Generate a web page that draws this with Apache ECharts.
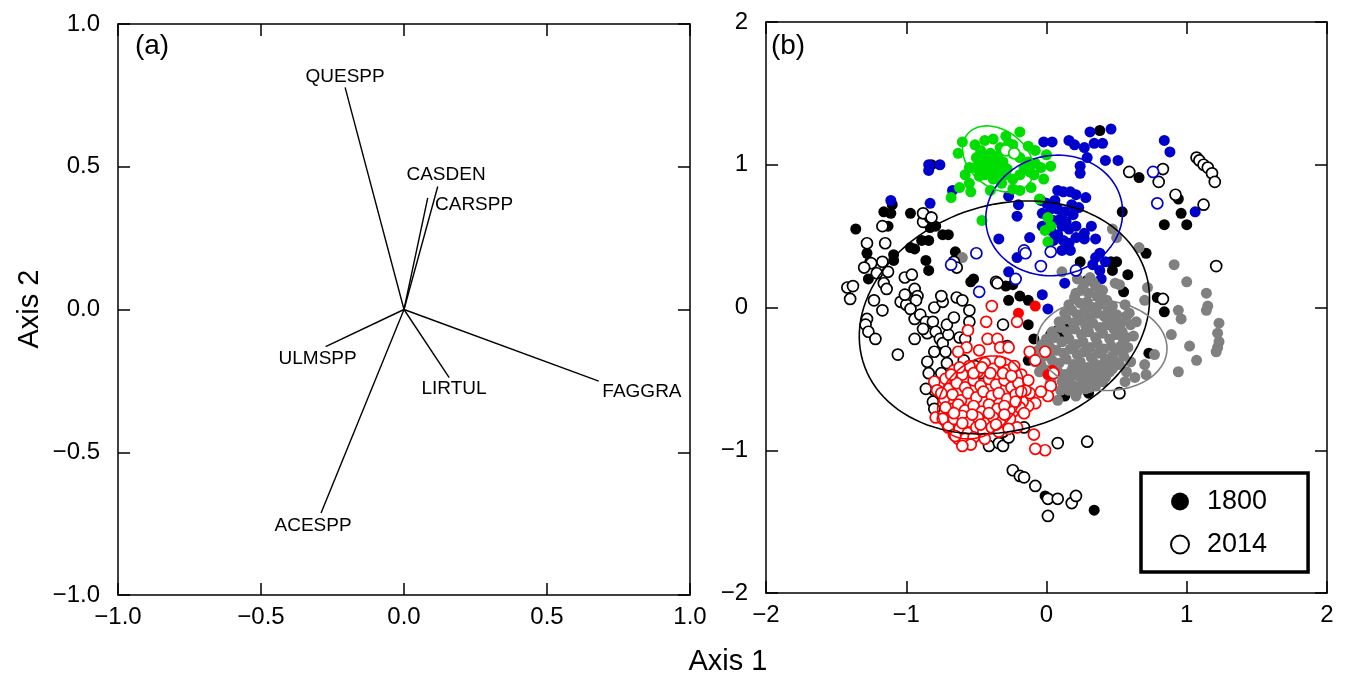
<!DOCTYPE html>
<html>
<head>
<meta charset="utf-8">
<title>Ordination biplot</title>
<script src="https://cdn.jsdelivr.net/npm/echarts@6/dist/echarts.min.js"></script>
<style>
  html, body { margin: 0; padding: 0; background: #fff; }
  #chart { width: 1346px; height: 680px; }
</style>
</head>
<body>
<div id="chart"></div>
<script>
// panel (a): species vectors
var arrowNames = ['QUESPP', 'CASDEN', 'CARSPP', 'ULMSPP', 'LIRTUL', 'FAGGRA', 'ACESPP'];
var arrowX = [-0.206, 0.118, 0.083, -0.274, 0.158, 0.681, -0.290];
var arrowY = [0.778, 0.431, 0.391, -0.130, -0.239, -0.251, -0.713];
var labelX = [-0.206, 0.147, 0.245, -0.302, 0.175, 0.832, -0.318];
var labelY = [0.816, 0.473, 0.368, -0.172, -0.277, -0.287, -0.757];

// panel (b): site scores, 1800 = filled, 2014 = open
var black1800 = [[-0.82,1.00],[0.38,1.24],[-1.36,0.55],[-1.10,0.72],[-1.11,0.66],[-1.13,0.57],[-0.97,0.66],[-0.79,0.57],
  [-0.70,0.51],[-0.84,0.47],[-0.94,0.41],[-0.65,0.39],[-0.86,0.33],[-0.84,0.26],[-1.28,0.38],[-1.26,0.32],[-1.09,0.37],
  [-1.09,0.33],[-1.27,0.20],[-0.54,0.18],[-0.52,0.20],[-0.29,0.15],[-0.24,0.16],[-0.27,0.05],[-0.19,0.08],[-0.13,0.05],
  [-0.13,-0.12],[-0.09,-0.22],[-0.13,-0.37],[0.03,-0.19],[0.08,-0.16],[0.13,-0.13],[0.11,-0.22],[0.24,0.32],[0.29,0.19],
  [0.46,0.32],[0.47,0.26],[0.50,0.32],[0.58,0.23],[0.54,0.67],[0.66,0.91],[0.71,0.38],[0.84,0.58],[1.00,0.58],[0.96,0.66],
  [0.94,0.76],[0.84,-0.03],[0.73,-0.32],[0.13,-0.62],[0.30,-0.60],[0.34,-1.42],[-0.01,-1.32],[0.55,0.11],[0.79,0.07],
  [-1.16,0.67],[-0.83,0.56],[-0.74,0.51],[-0.89,0.47],[-0.97,0.42],[-1.17,0.57]];
var black2014 = [[1.07,1.05],[1.09,1.03],[1.12,1.00],[1.15,0.98],[1.18,0.94],[1.20,0.88],[0.59,0.95],[0.83,0.97],[0.80,0.88],
  [0.92,0.79],[1.12,0.72],[1.21,0.29],[0.83,0.06],[0.52,-0.60],[0.29,-0.94],[0.08,-0.95],[-0.24,-1.14],[-0.19,-1.18],
  [-0.16,-1.19],[-0.08,-1.25],[0.01,-1.34],[0.08,-1.34],[0.18,-1.37],[0.21,-1.32],[0.01,-1.46],[-0.41,-0.97],[-0.34,-0.95],
  [-0.31,-0.97],[-0.27,-0.91],[-0.16,-0.84],[-0.31,-0.87],[-1.17,0.57],[-1.15,0.45],[-1.28,0.45],[-1.25,0.31],[-1.21,0.24],
  [-1.13,0.25],[-1.16,0.17],[-1.14,0.13],[-1.42,0.14],[-1.38,0.15],[-1.40,0.06],[-1.23,0.05],[-1.28,-0.08],[-1.29,-0.12],
  [-1.27,-0.17],[-1.22,-0.22],[-1.17,-0.02],[-1.06,-0.33],[-1.01,0.21],[-0.96,0.23],[-0.88,0.60],[-0.83,0.63],[-1.04,0.04],
  [-1.00,0.02],[-0.94,0.13],[-0.92,0.08],[-0.93,0.05],[-0.97,-0.01],[-0.94,-0.08],[-0.90,-0.05],[-0.86,-0.10],[-0.80,0.00],
  [-0.74,0.04],[-0.81,-0.10],[-0.85,-0.18],[-0.94,-0.22],[-0.79,-0.17],[-0.76,-0.22],[-0.74,-0.25],[-0.70,-0.19],[-0.64,0.07],
  [-0.60,0.05],[-0.55,-0.02],[-0.55,-0.10],[-0.62,-0.21],[-0.58,-0.22],[-0.66,0.32],[-0.64,0.28],[-0.36,0.18],[-0.35,0.17],
  [-0.31,-0.12],[-0.28,-0.27],[-0.72,-0.31],[-0.80,-0.31],[-0.71,-0.39],[-0.85,-0.38],[-0.84,-0.46],[-0.75,-0.46],[-0.80,-0.58],
  [-0.81,-0.66],[-0.80,-0.71],[-0.86,-0.57],[-0.59,-0.37],[-0.51,-0.41],[-0.47,-0.46],[-0.88,0.66],[-0.82,0.63],[-1.17,0.32],
  [-1.30,0.28],[-1.01,0.09],[-0.75,0.08],[-0.88,-0.15],[-0.71,-0.12],[-0.66,-0.07]];
var blue1800 = [[-0.84,1.00],[-0.76,1.00],[-0.84,0.96],[-1.11,0.75],[-0.83,0.73],[-0.67,0.82],[-0.02,1.16],[0.04,1.16],
  [0.16,1.17],[0.20,1.14],[0.27,1.12],[0.31,1.23],[0.46,1.25],[0.34,1.15],[0.40,1.15],[0.24,0.99],[0.24,0.94],[0.29,1.05],
  [0.42,1.03],[0.51,1.03],[0.84,1.17],[0.88,1.09],[1.06,0.67],[-0.27,0.78],[-0.20,0.72],[-0.21,0.64],[-0.34,0.48],[-0.12,0.49],
  [-0.04,0.75],[0.08,0.82],[0.12,0.81],[0.17,0.81],[0.21,0.79],[0.28,0.77],[-0.03,0.66],[0.03,0.69],[0.08,0.69],[0.13,0.67],
  [0.19,0.65],[0.05,0.61],[0.11,0.57],[0.16,0.55],[0.21,0.57],[-0.03,0.57],[0.03,0.54],[0.08,0.51],[0.12,0.47],[0.16,0.45],
  [0.21,0.49],[0.27,0.52],[0.32,0.57],[0.35,0.48],[0.27,0.48],[0.11,0.40],[0.17,0.40],[0.35,0.35],[0.38,0.38],[0.42,0.32],
  [0.33,0.30],[0.38,0.26],[0.31,0.19],[0.39,0.20],[0.13,0.17],[-0.03,0.09],[0.01,-0.01],[-0.27,0.25],[-0.21,0.35],[0.05,0.47],
  [0.10,0.62],[0.14,0.60],[0.18,0.72],[0.23,0.70],[0.06,0.75],[0.00,0.73]];
var blue2014 = [[0.76,0.95],[0.79,0.73],[-0.16,0.40],[-0.15,0.38],[-0.50,0.38],[-0.68,0.30],[-0.04,0.29],[0.03,0.39],
  [-0.22,0.20],[-0.48,0.11],[0.21,0.26]];
var green1800 = [[-0.60,1.16],[-0.63,1.08],[-0.51,1.14],[-0.44,1.17],[-0.38,1.18],[-0.29,1.20],[-0.19,1.23],[-0.13,1.13],
  [-0.08,1.10],[0.00,1.07],[0.03,0.99],[-0.04,0.98],[-0.12,0.95],[-0.19,0.93],[-0.24,0.90],[-0.29,0.93],[-0.35,0.95],
  [-0.40,0.99],[-0.46,0.99],[-0.51,0.98],[-0.55,0.98],[-0.43,1.05],[-0.38,1.04],[-0.34,1.01],[-0.40,1.08],[-0.47,1.10],
  [-0.24,1.08],[-0.19,1.05],[-0.13,1.02],[-0.08,1.01],[-0.55,0.87],[-0.62,0.84],[-0.68,0.77],[-0.54,0.81],[-0.46,0.61],
  [-0.40,0.82],[-0.24,0.83],[-0.19,0.82],[-0.11,0.84],[-0.05,0.76],[0.01,0.63],[0.03,0.57],[-0.01,0.54],[0.01,0.46],
  [-0.38,0.90],[-0.32,0.87],[-0.48,0.92],[-0.24,1.14],[-0.36,0.97],[-0.42,0.96],[-0.30,0.98],[-0.37,1.00],[-0.33,0.94],[-0.44,0.93],
  [-0.41,1.03],[-0.35,1.06],[-0.31,1.02],[-0.28,0.97],[-0.45,1.01],[-0.50,1.05],[-0.33,1.12],[-0.27,1.15],[-0.16,0.98],
  [-0.09,0.93],[-0.02,0.90],[-0.58,0.93]];
var green2014 = [[-0.29,1.10],[-0.23,1.08]];
var gray1800 = [[0.47,0.55],[0.50,0.49],[0.66,0.42],[0.91,0.30],[1.00,0.18],[1.14,0.10],[1.15,0.01],[1.14,-0.02],[1.23,-0.11],
  [1.22,-0.18],[1.23,-0.24],[1.22,-0.28],[1.21,-0.31],[1.07,-0.37],[1.02,-0.27],[0.94,-0.02],[0.96,-0.08],[0.89,-0.19],
  [0.72,0.14],[0.70,0.05],[0.77,-0.33],[0.70,-0.40],[0.71,-0.47],[0.94,-0.45],[0.63,-0.49],[0.56,-0.52],[0.08,-0.65],
  [0.21,-0.62],[0.40,-0.52],[-0.05,-0.45],[-0.08,-0.38],[-0.60,0.35],[0.11,0.25],[0.49,0.17],[0.52,0.16],[0.56,0.02],
  [0.59,-0.04],[0.52,-0.16],[0.64,-0.10],
  [0.22,0.20],[0.27,0.17],[0.31,0.21],[0.35,0.15],[0.25,0.12],[0.30,0.10],[0.36,0.08],[0.40,0.12],[0.20,0.07],[0.24,0.03],
  [0.29,0.04],[0.33,0.00],[0.38,0.02],[0.43,0.05],[0.47,0.01],[0.18,-0.02],[0.22,-0.05],[0.27,-0.03],[0.31,-0.07],[0.36,-0.04],
  [0.41,-0.06],[0.45,-0.09],[0.50,-0.05],[0.14,-0.08],[0.19,-0.11],[0.24,-0.09],[0.28,-0.13],[0.33,-0.11],[0.38,-0.14],[0.43,-0.12],
  [0.48,-0.15],[0.53,-0.11],[0.10,-0.14],[0.15,-0.17],[0.20,-0.15],[0.25,-0.19],[0.30,-0.17],[0.35,-0.21],[0.40,-0.18],[0.45,-0.22],
  [0.50,-0.19],[0.55,-0.23],[0.06,-0.21],[0.11,-0.24],[0.16,-0.22],[0.21,-0.26],[0.26,-0.24],[0.31,-0.28],[0.36,-0.25],[0.41,-0.29],
  [0.46,-0.27],[0.51,-0.30],[0.02,-0.27],[0.07,-0.30],[0.12,-0.32],[0.17,-0.29],[0.22,-0.33],[0.27,-0.31],[0.32,-0.35],[0.37,-0.32],
  [0.42,-0.36],[0.47,-0.34],[-0.02,-0.34],[0.04,-0.37],[0.09,-0.39],[0.14,-0.36],[0.19,-0.40],[0.24,-0.38],[0.29,-0.42],[0.34,-0.39],
  [0.39,-0.43],[0.44,-0.41],[0.08,-0.45],[0.13,-0.47],[0.18,-0.44],[0.23,-0.48],[0.28,-0.46],[0.33,-0.50],[0.38,-0.47],[0.15,-0.53],
  [0.20,-0.55],[0.26,-0.53],[0.31,-0.56],[-0.06,-0.30],[-0.04,-0.40],[0.00,-0.44],[0.03,-0.52],[0.10,-0.58],[0.55,-0.34],[0.58,-0.28],
  [0.26,0.14],[0.33,0.18],[0.21,0.10],[0.39,0.06],[0.16,0.02],[0.44,-0.02],[0.13,-0.04],[0.49,-0.10],[0.09,-0.10],[0.54,-0.17],
  [0.04,-0.17],[0.57,-0.21],[0.00,-0.22],[0.53,-0.27],[-0.03,-0.26],[0.49,-0.38],[0.45,-0.45],[0.40,-0.40],[0.35,-0.45],[0.30,-0.50],
  [0.24,-0.43],[0.17,-0.49],[0.11,-0.52],[0.06,-0.41],[0.02,-0.32],[0.35,-0.55],[0.28,-0.57],[0.22,-0.59],[0.16,-0.58],[0.42,-0.49],
  [0.47,-0.43],[0.52,-0.40],[0.57,-0.45],[0.60,-0.38],[0.62,-0.20],[0.60,-0.12],[0.57,-0.06]];
var red1800 = [[-0.08,0.01],[-0.20,-0.04],[0.01,-0.47],[0.04,-0.44]];
var red2014 = [[-0.39,0.01],[-0.43,-0.10],[-0.21,-0.10],[-0.42,-0.22],[-0.56,-0.16],[-0.57,-0.28],[-0.63,-0.31],[-0.48,-0.30],
  [-0.35,-0.22],[-0.33,-0.28],[-0.27,-0.28],[-0.12,-0.31],[-0.08,-0.37],[-0.01,-0.31],[0.05,-0.46],[0.03,-0.55],[0.01,-0.62],
  [-0.04,-0.59],[-0.08,-0.67],[-0.12,-0.60],[-0.13,-0.69],[-0.21,-0.84],[-0.09,-0.89],[-0.01,-1.00],[-0.08,-0.99],[-0.80,-0.52],
  [-0.78,-0.58],[-0.79,-0.77],[-0.74,-0.78],[-0.70,-0.84],[-0.66,-0.89],[-0.63,-0.92],
  [-0.72,-0.50],[-0.66,-0.44],[-0.60,-0.47],[-0.55,-0.41],[-0.49,-0.45],[-0.44,-0.39],[-0.38,-0.43],[-0.33,-0.38],[-0.28,-0.44],
  [-0.23,-0.41],[-0.18,-0.47],[-0.70,-0.57],[-0.64,-0.53],[-0.58,-0.56],[-0.52,-0.51],[-0.47,-0.55],[-0.41,-0.50],[-0.36,-0.54],
  [-0.30,-0.51],[-0.25,-0.56],[-0.20,-0.53],[-0.15,-0.58],[-0.73,-0.64],[-0.67,-0.61],[-0.61,-0.65],[-0.56,-0.60],[-0.50,-0.63],
  [-0.45,-0.59],[-0.39,-0.62],[-0.34,-0.60],[-0.28,-0.64],[-0.22,-0.61],[-0.17,-0.66],[-0.69,-0.71],[-0.63,-0.68],[-0.58,-0.72],
  [-0.52,-0.69],[-0.46,-0.73],[-0.41,-0.68],[-0.35,-0.71],[-0.30,-0.69],[-0.24,-0.73],[-0.19,-0.70],[-0.66,-0.78],[-0.60,-0.76],
  [-0.55,-0.80],[-0.49,-0.77],[-0.43,-0.81],[-0.38,-0.77],[-0.32,-0.80],[-0.26,-0.78],[-0.62,-0.85],[-0.56,-0.88],[-0.50,-0.84],
  [-0.45,-0.87],[-0.39,-0.84],[-0.34,-0.87],[-0.58,-0.92],[-0.52,-0.91],[-0.65,-0.90],
  [-0.68,-0.47],[-0.62,-0.42],[-0.52,-0.46],[-0.46,-0.42],[-0.40,-0.46],[-0.31,-0.46],[-0.25,-0.48],[-0.75,-0.60],[-0.72,-0.70],
  [-0.66,-0.74],[-0.60,-0.81],[-0.53,-0.75],[-0.47,-0.82],[-0.41,-0.74],[-0.36,-0.82],[-0.30,-0.75],[-0.22,-0.66],[-0.18,-0.59],
  [-0.13,-0.51],[-0.16,-0.74],[-0.27,-0.85],[-0.44,-0.92],[-0.54,-0.96],[-0.60,-0.97]];

// group ellipses: centre x, centre y, semi-axis a, semi-axis b, angle (deg)
var ellipseNames = ['black', 'blue', 'green', 'gray', 'red'];
var ellipseColors = ['#000000', '#0000cd', '#00dd00', '#808080', '#ff0000'];
var ellipseParams = [
  [-0.30, -0.07, 1.055, 0.79, 17],
  [0.055, 0.645, 0.49, 0.42, 10],
  [-0.345, 1.04, 0.28, 0.20, -37],
  [0.395, -0.265, 0.465, 0.315, -5],
  [-0.47, -0.63, 0.34, 0.25, 40]
];

var FONT = 'Liberation Sans, Arial, Helvetica, sans-serif';

function minus(s) { return String(s).replace('-', '\u2212'); }

function ellipsePath(p) {
  var pts = [];
  var th = p[4] * Math.PI / 180;
  for (var i = 0; i <= 120; i++) {
    var t = i / 120 * 2 * Math.PI;
    var u = p[2] * Math.cos(t), v = p[3] * Math.sin(t);
    pts.push([p[0] + u * Math.cos(th) - v * Math.sin(th), p[1] + u * Math.sin(th) + v * Math.cos(th)]);
  }
  return pts;
}

function frameAxis(gi, pos, min, max, step, labels, fmt, margin) {
  return {
    gridIndex: gi, type: 'value', position: pos, min: min, max: max, interval: step,
    axisLine: { show: true, onZero: false, lineStyle: { color: '#000', width: 1.5 } },
    axisTick: { show: true, inside: true, length: 12, lineStyle: { color: '#000', width: 1.5 } },
    axisLabel: { show: labels, color: '#000', fontSize: 24, fontFamily: FONT, margin: margin, formatter: fmt },
    splitLine: { show: false }
  };
}

var fmtA = function (v) { return minus(v.toFixed(1)); };
var fmtB = function (v) { return minus(v.toFixed(0)); };

var series = [];

// panel (a)
arrowNames.forEach(function (n, i) {
  series.push({
    type: 'line', xAxisIndex: 0, yAxisIndex: 0, symbol: 'none', silent: true,
    lineStyle: { color: '#000', width: 1.4 },
    data: [[0, 0], [arrowX[i], arrowY[i]]]
  });
});
series.push({
  type: 'scatter', xAxisIndex: 0, yAxisIndex: 0, symbolSize: 0, silent: true,
  itemStyle: { opacity: 1 },
  data: arrowNames.map(function (n, i) { return { name: n, value: [labelX[i], labelY[i]] }; }),
  label: { show: true, position: 'inside', formatter: '{b}', color: '#000', textBorderWidth: 0,
    opacity: 1, fontSize: 19, fontFamily: FONT }
});

// panel (b)
function pts(data, color, open) {
  return {
    type: 'scatter', xAxisIndex: 2, yAxisIndex: 2, symbol: 'circle', symbolSize: 11, silent: true,
    itemStyle: open ? { color: '#fff', borderColor: color, borderWidth: 1.7, opacity: 1 } : { color: color, opacity: 1 },
    data: data
  };
}
series.push(pts(black1800, '#000000', false));
series.push(pts(blue1800, '#0000cd', false));
series.push(pts(gray1800, '#808080', false));
series.push(pts(green1800, '#00dd00', false));
series.push(pts(red1800, '#ff0000', false));
series.push(pts(black2014, '#000000', true));
series.push(pts(blue2014, '#0000cd', true));
series.push(pts(green2014, '#00dd00', true));
series.push(pts(red2014, '#ff0000', true));

ellipseParams.forEach(function (p, i) {
  series.push({
    type: 'line', name: ellipseNames[i], xAxisIndex: 2, yAxisIndex: 2, symbol: 'none', silent: true,
    lineStyle: { color: ellipseColors[i], width: 1.6 }, data: ellipsePath(p), z: 3
  });
});

// legend entries
series.push({ type: 'scatter', name: '1800', xAxisIndex: 2, yAxisIndex: 2, data: [], itemStyle: { color: '#000', opacity: 1 } });
series.push({ type: 'scatter', name: '2014', xAxisIndex: 2, yAxisIndex: 2, data: [],
  itemStyle: { color: '#fff', borderColor: '#000', borderWidth: 1.7, opacity: 1 } });

var chart = echarts.init(document.getElementById('chart'));
chart.setOption({
  animation: false,
  backgroundColor: '#fff',
  grid: [
    { left: 118, top: 24, width: 572, height: 571 },
    { left: 766, top: 22, width: 561, height: 571 }
  ],
  xAxis: [
    frameAxis(0, 'bottom', -1, 1, 0.5, true, fmtA, 10),
    frameAxis(0, 'top', -1, 1, 0.5, false, fmtA, 10),
    frameAxis(1, 'bottom', -2, 2, 1, true, fmtB, 10),
    frameAxis(1, 'top', -2, 2, 1, false, fmtB, 10)
  ],
  yAxis: [
    frameAxis(0, 'left', -1, 1, 0.5, true, fmtA, 18),
    frameAxis(0, 'right', -1, 1, 0.5, false, fmtA, 18),
    frameAxis(1, 'left', -2, 2, 1, true, fmtB, 18),
    frameAxis(1, 'right', -2, 2, 1, false, fmtB, 18)
  ],
  legend: {
    data: ['1800', '2014'],
    orient: 'vertical', left: 1141, top: 473,
    padding: [15, 41, 14, 29], itemGap: 16, itemWidth: 18, itemHeight: 18,
    icon: 'circle', selectedMode: false,
    borderColor: '#000', borderWidth: 3.5, backgroundColor: '#fff',
    textStyle: { color: '#000', fontSize: 27, fontFamily: FONT, padding: [0, 0, 0, 13] }
  },
  graphic: [
    { type: 'text', x: 152, y: 46, style: { text: '(a)', fill: '#000', font: '28px ' + FONT, textAlign: 'center', textVerticalAlign: 'middle' } },
    { type: 'text', x: 788, y: 46, style: { text: '(b)', fill: '#000', font: '28px ' + FONT, textAlign: 'center', textVerticalAlign: 'middle' } },
    { type: 'text', x: 30, y: 309, rotation: Math.PI / 2, style: { text: 'Axis 2', fill: '#000', font: '29px ' + FONT, textAlign: 'center', textVerticalAlign: 'middle' } },
    { type: 'text', x: 728, y: 662, style: { text: 'Axis 1', fill: '#000', font: '29px ' + FONT, textAlign: 'center', textVerticalAlign: 'middle' } }
  ],
  series: series
});
</script>
</body>
</html>
